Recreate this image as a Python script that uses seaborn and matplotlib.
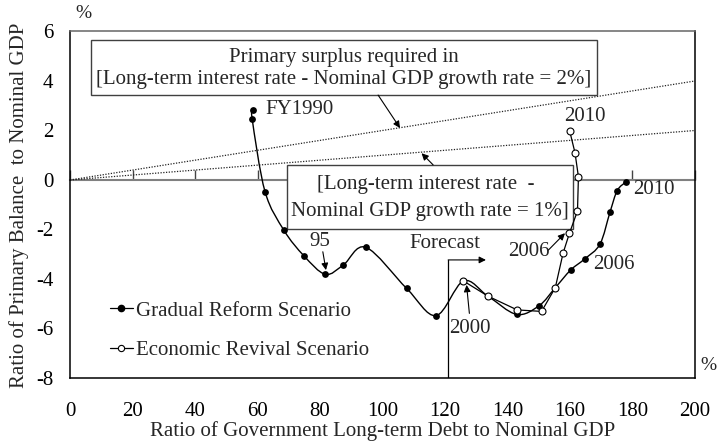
import numpy as np
import pandas as pd
import seaborn as sns
import matplotlib.pyplot as plt
from matplotlib.path import Path
from matplotlib.patches import PathPatch, Rectangle
from matplotlib.lines import Line2D

# Gradual Reform Scenario, FY1990-2010
years_gradual = list(range(1990, 2011))
debt_gradual = [58.6, 58.3, 62.4, 68.5, 74.9, 81.7, 87.5, 94.7, 107.7, 117.1, 125.9,
                133.7, 142.9, 150.1, 155.3, 160.2, 164.8, 169.6, 172.8, 175.1, 177.8]
pb_gradual = [2.83, 2.46, -0.47, -2.04, -3.07, -3.81, -3.43, -2.72, -4.38, -5.48, -4.08,
              -4.69, -5.43, -5.08, -4.35, -3.64, -3.18, -2.59, -1.30, -0.43, -0.09]

# Economic Revival Scenario, FY2000-2010
years_revival = list(range(2000, 2011))
debt_revival = [125.9, 133.7, 143.1, 150.9, 155.3, 157.8, 159.8, 162.4, 162.7, 161.6, 159.9]
pb_revival = [-4.08, -4.69, -5.25, -5.31, -4.35, -2.95, -2.16, -1.25, 0.13, 1.10, 1.98]

# required primary surplus lines (r - g = 2% and 1%)
req_x = [0, 200]
req_2pct = [0, 4]
req_1pct = [0, 2]

x_ticks = list(range(0, 201, 20))
y_ticks = list(range(-8, 7, 2))

FS = 15

sns.set_theme(style="white")
plt.rcParams["font.family"] = ["Liberation Serif", "DejaVu Serif"]
plt.rcParams["axes.unicode_minus"] = False

gradual = pd.DataFrame({"year": years_gradual, "debt": debt_gradual, "pb": pb_gradual})
revival = pd.DataFrame({"year": years_revival, "debt": debt_revival, "pb": pb_revival})

fig = plt.figure(figsize=(7.19, 4.41), dpi=100)
ax = fig.add_axes([0.0974, 0.1429, 0.8692, 0.7857])
ax.set_xlim(0, 200)
ax.set_ylim(-8, 6)

# dotted reference lines
for ys in (req_2pct, req_1pct):
    sns.lineplot(x=req_x, y=ys, color="#222222", lw=0.9, linestyle=(0, (1, 1.2)),
                 ax=ax, zorder=1)

# zero line carrying the x ticks
sec = ax.secondary_xaxis(8 / 14)
sec.set_xticks(x_ticks)
sec.tick_params(axis="x", direction="out", length=7, width=1, color="#444444",
                labeltop=False, labelbottom=False)
for s in sec.spines.values():
    s.set_color("#808080")
    s.set_linewidth(1.5)

# smoothed gradual line (Catmull-Rom as cubic Bezier)
pts = np.column_stack([gradual["debt"], gradual["pb"]])
verts = [pts[0]]
codes = [Path.MOVETO]
n = len(pts)
for i in range(n - 1):
    p0 = pts[i - 1] if i > 0 else pts[i]
    p1 = pts[i]
    p2 = pts[i + 1]
    p3 = pts[i + 2] if i + 2 < n else pts[i + 1]
    verts += [p1 + (p2 - p0) / 6, p2 - (p3 - p1) / 6, p2]
    codes += [Path.CURVE4] * 3
ax.add_patch(PathPatch(Path(verts, codes), fill=False, edgecolor="black", lw=1.0, zorder=4))
sns.scatterplot(data=gradual, x="debt", y="pb", color="black", s=24, linewidth=0,
                ax=ax, zorder=5, legend=False)

sns.lineplot(data=revival, x="debt", y="pb", sort=False, estimator=None, color="black",
             lw=0.9, marker="o", markersize=5, markerfacecolor="white",
             markeredgecolor="black", markeredgewidth=0.8, ax=ax, zorder=6, legend=False)

# text boxes
ax.add_patch(Rectangle((6.6, 3.45), 162.0, 2.2, facecolor="white", edgecolor="#404040",
                       lw=1.0, zorder=3))
ax.text(87.7, 4.93, "Primary surplus required in", ha="center", va="center",
        fontsize=FS, zorder=7)
ax.text(87.7, 4.04, "[Long-term interest rate - Nominal GDP growth rate = 2%]",
        ha="center", va="center", fontsize=FS, zorder=7)
ax.add_patch(Rectangle((69.4, -1.98), 91.6, 2.59, facecolor="white", edgecolor="#404040",
                       lw=1.0, zorder=3))
ax.text(113.8, -0.20, "[Long-term interest rate  -", ha="center", va="center",
        fontsize=FS, zorder=7)
ax.text(115.0, -1.29, "Nominal GDP growth rate = 1%]", ha="center", va="center",
        fontsize=FS, zorder=7)

arrow = dict(arrowstyle="-|>", color="black", lw=0.8, mutation_scale=10,
             shrinkA=0, shrinkB=0)
ax.annotate("", xy=(105.6, 2.10), xytext=(98.6, 3.43), arrowprops=arrow, zorder=7)
ax.annotate("", xy=(112.5, 1.08), xytext=(116.2, 0.61), arrowprops=arrow, zorder=7)

# labels on the curves
ax.text(62.4, 2.83, "FY1990", ha="left", va="center", fontsize=FS)
ax.text(80.0, -2.49, "95", ha="center", va="center", fontsize=FS)
ax.annotate("", xy=(81.9, -3.64), xytext=(80.9, -2.90), arrowprops=arrow)
ax.text(128.0, -5.99, "2000", ha="center", va="center", fontsize=FS)
ax.annotate("", xy=(126.9, -4.24), xytext=(127.8, -5.39), arrowprops=arrow)
ax.text(146.7, -2.90, "2006", ha="center", va="center", fontsize=FS)
ax.annotate("", xy=(158.4, -2.15), xytext=(153.1, -2.83), arrowprops=arrow)
ax.text(167.3, -3.43, "2006", ha="left", va="center", fontsize=FS)
ax.text(164.8, 2.56, "2010", ha="center", va="center", fontsize=FS)
ax.text(180.1, -0.38, "2010", ha="left", va="center", fontsize=FS)

# forecast marker
ax.plot([121, 121], [-8, -3.23], color="black", lw=0.9)
ax.annotate("", xy=(133.1, -3.23), xytext=(121, -3.23), arrowprops=arrow)
ax.text(120, -2.55, "Forecast", ha="center", va="center", fontsize=FS)

# axes styling
ax.set_xticks(x_ticks)
ax.set_yticks(y_ticks)
ax.tick_params(axis="x", length=0, pad=17, labelsize=FS, colors="black")
ax.tick_params(axis="y", direction="in", length=6, width=1, pad=12, labelsize=FS,
               colors="black")
ax.set_xlabel("")
ax.set_ylabel("")
for side in ("left", "bottom", "right"):
    ax.spines[side].set_color("black")
    ax.spines[side].set_linewidth(1.1)
ax.spines["top"].set_color("#666666")
ax.spines["top"].set_linewidth(1.1)

handles = [
    Line2D([], [], color="black", lw=0.9, marker="o", markersize=4.5,
           markerfacecolor="black", markeredgecolor="black"),
    Line2D([], [], color="black", lw=0.9, marker="o", markersize=4.5,
           markerfacecolor="white", markeredgecolor="black", markeredgewidth=0.8),
]
ax.legend(handles, ["Gradual Reform Scenario", "Economic Revival Scenario"],
          loc="upper left", bbox_to_anchor=(0.064, 0.222), frameon=False,
          fontsize=FS, handlelength=1.1, handletextpad=0.15, labelspacing=0.95,
          borderpad=0, borderaxespad=0)

fig.text(19 / 719, 1 - 205 / 441, "Ratio of Primary Balance  to Nominal GDP",
         rotation=90, ha="center", va="center", fontsize=FS)
fig.text(383 / 719, 1 - 431 / 441, "Ratio of Government Long-term Debt to Nominal GDP",
         ha="center", va="center", fontsize=FS)
fig.text(83 / 719, 1 - 14 / 441, "%", ha="center", va="center", fontsize=14)
fig.text(708 / 719, 1 - 365 / 441, "%", ha="center", va="center", fontsize=14)

fig.savefig("out.png", dpi=100)
